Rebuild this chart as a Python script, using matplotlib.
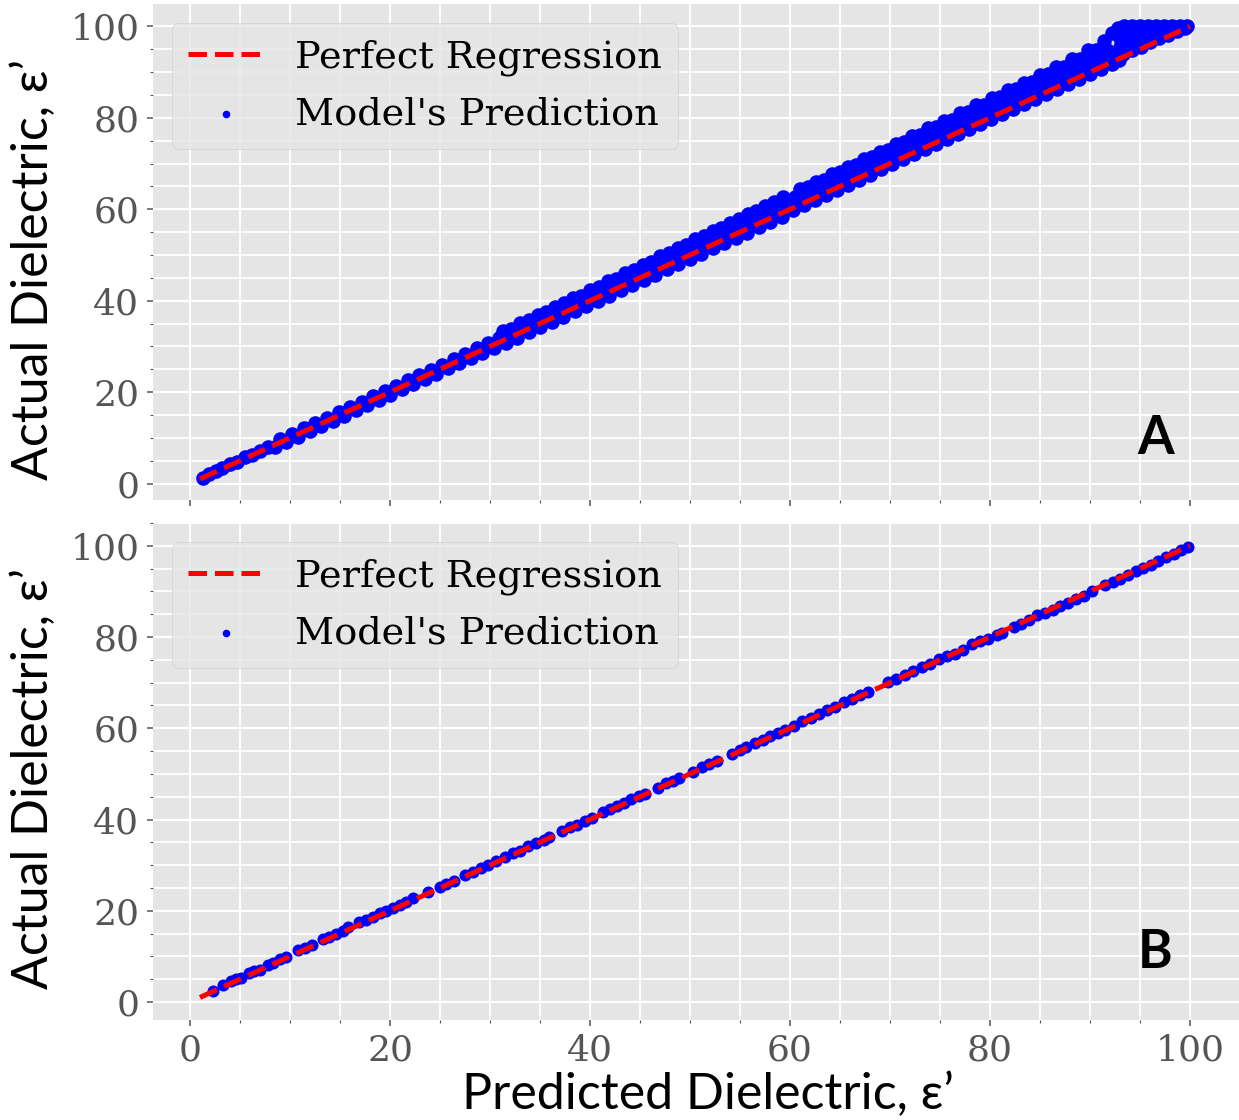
import matplotlib
matplotlib.use("Agg")
import matplotlib.pyplot as plt
from matplotlib.ticker import MultipleLocator

plt.style.use("ggplot")

# ---------------- data ----------------
line_range = [1.0, 100.0]

# Panel A: predicted (x) vs actual (y)
pred_a = [
    1.3, 1.9, 2.6, 3.2, 4.0, 4.7, 5.5, 6.2, 7.0, 7.8,
    8.5, 9.6, 10.8, 12.0, 13.1, 14.3, 15.4, 16.6, 17.7, 18.9, 20.0, 21.2, 22.3, 23.5, 24.6, 25.8, 26.9, 28.1, 29.2,
    9.0, 10.2, 11.4, 12.5, 13.7, 14.9, 16.0, 17.2, 18.3, 19.5, 20.6, 21.8, 22.9, 24.1, 25.2, 26.4, 27.5, 28.7, 29.8,
    30.4, 31.6, 32.7, 33.9, 35.0, 36.2, 37.3, 38.5, 39.6, 40.8, 41.9, 43.1, 44.2, 45.4, 46.5, 47.7, 48.8, 50.0, 51.1,
    52.3, 53.4, 54.6, 55.7, 56.9, 58.0, 59.2,
    30.9, 32.1, 33.2, 34.4, 35.5, 36.7, 37.8, 39.0, 40.1, 41.3, 42.4, 43.6, 44.7, 45.9, 47.0, 48.2, 49.3, 50.5, 51.6,
    52.8, 53.9, 55.1, 56.2, 57.4, 58.5, 59.7,
    31.3, 33.0, 34.8, 36.5, 38.3, 40.0, 41.8, 43.5, 45.3, 47.0, 48.8, 50.5, 52.3, 54.0, 55.8, 57.5, 59.3,
    32.1, 33.9, 35.6, 37.4, 39.1, 40.9, 42.6, 44.4, 46.1, 47.9, 49.6, 51.4, 53.1, 54.9, 56.6, 58.4,
    60.3, 61.4, 62.5, 63.6, 64.7, 65.8, 66.9, 68.0, 69.1, 70.2, 71.3, 72.4, 73.5, 74.6, 75.7, 76.8, 77.9, 79.0, 80.1,
    81.2, 82.3, 83.4, 84.5, 85.6, 86.7, 87.8, 88.9, 90.0, 91.1,
    60.8, 61.9, 63.0, 64.1, 65.2, 66.3, 67.4, 68.5, 69.6, 70.7, 71.8, 72.9, 74.0, 75.1, 76.2, 77.3, 78.4, 79.5, 80.6,
    81.7, 82.8, 83.9, 85.0, 86.1, 87.2, 88.3, 89.4, 90.5, 91.6,
    60.5, 61.7, 62.9, 64.1, 65.3, 66.5, 67.7, 68.9, 70.1, 71.3, 72.5, 73.7, 74.9, 76.1, 77.3, 78.5, 79.7, 80.9, 82.1,
    83.3, 84.5, 85.7, 86.9, 88.1, 89.3, 90.5, 91.7,
    61.8, 63.4, 65.0, 66.6, 68.2, 69.8, 71.4, 73.0, 74.6, 76.2, 77.8, 79.4, 81.0, 82.6, 84.2, 85.8, 87.4, 89.0, 90.6,
    61.0, 62.6, 64.2, 65.8, 67.4, 69.0, 70.6, 72.2, 73.8, 75.4, 77.0, 78.6, 80.2, 81.8, 83.4, 85.0, 86.6, 88.2, 89.8,
    91.4, 92.2, 92.8,
    93.4, 94.2, 95.0, 95.8, 96.6, 97.4, 98.2, 99.0, 99.7,
    93.0, 93.8, 94.5, 95.3, 96.1, 93.0, 93.9, 94.8, 95.6, 96.5, 97.3, 98.1,
    92.5, 93.3, 94.2, 95.1, 96.0, 96.9, 97.8, 98.7, 99.5, 92.2, 92.9,
]
actual_a = [
    1.2, 2.0, 2.8, 3.3, 4.2, 4.8, 5.7, 6.3, 7.2, 7.9,
    7.9, 9.0, 10.2, 11.4, 12.5, 13.7, 14.8, 16.0, 17.1, 18.3, 19.4, 20.6, 21.7, 22.9, 24.0, 25.2, 26.3, 27.5, 28.6,
    9.7, 10.9, 12.1, 13.2, 14.4, 15.6, 16.7, 17.9, 19.1, 20.3, 21.4, 22.6, 23.7, 24.9, 26.0, 27.2, 28.3, 29.6, 30.7,
    29.6, 30.8, 31.9, 33.1, 34.2, 35.4, 36.5, 37.7, 38.8, 40.0, 41.1, 42.3, 43.4, 44.6, 45.7, 46.9, 48.0, 49.2, 50.3,
    51.5, 52.6, 53.8, 54.9, 56.1, 57.2, 58.4,
    31.8, 33.0, 34.1, 35.3, 36.4, 37.6, 38.7, 39.9, 41.1, 42.3, 43.4, 44.6, 45.7, 46.9, 48.0, 49.2, 50.4, 51.6, 52.7,
    53.9, 55.0, 56.2, 57.3, 58.5, 59.7, 60.9,
    33.3, 35.1, 36.9, 38.7, 40.6, 42.3, 44.2, 46.0, 47.9, 49.7, 51.6, 53.4, 55.3, 57.1, 59.0, 60.8, 62.7,
    33.9, 35.7, 37.5, 39.4, 41.1, 43.0, 44.8, 46.7, 48.5, 50.4, 52.2, 54.1, 55.9, 57.8, 59.6, 61.5,
    59.9, 61.0, 62.1, 63.2, 64.3, 65.4, 66.5, 67.6, 68.7, 69.8, 70.9, 72.0, 73.1, 74.2, 75.3, 76.4, 77.5, 78.6, 79.7,
    80.8, 81.9, 83.0, 84.1, 85.2, 86.3, 87.4, 88.5, 89.6, 90.7,
    62.1, 63.2, 64.3, 65.4, 66.5, 67.6, 68.7, 69.8, 70.9, 72.0, 73.1, 74.2, 75.3, 76.4, 77.5, 78.6, 79.7, 80.8, 81.9,
    83.0, 84.1, 85.2, 86.3, 87.4, 88.5, 89.6, 90.7, 91.8, 92.9,
    62.7, 64.0, 65.2, 66.4, 67.7, 68.9, 70.1, 71.3, 72.6, 73.8, 75.0, 76.3, 77.5, 78.8, 80.0, 81.2, 82.5, 83.7, 85.0,
    86.2, 87.4, 88.7, 89.9, 91.2, 92.4, 93.6, 94.9,
    64.8, 66.4, 68.1, 69.7, 71.4, 73.0, 74.7, 76.3, 78.0, 79.6, 81.3, 82.9, 84.6, 86.2, 87.9, 89.5, 91.2, 92.9, 94.8,
    64.4, 66.0, 67.7, 69.3, 71.0, 72.6, 74.3, 76.0, 77.7, 79.4, 81.1, 82.7, 84.4, 86.0, 87.7, 89.3, 91.1, 92.9, 94.8,
    96.9, 98.5, 99.6,
    100.0, 100.0, 100.0, 100.0, 100.0, 100.0, 100.0, 100.0, 100.0,
    97.5, 98.3, 98.8, 99.2, 99.4, 95.5, 96.6, 97.4, 97.8, 98.6, 99.0, 99.3,
    93.6, 94.0, 94.8, 95.6, 96.5, 97.4, 98.2, 99.0, 99.6, 91.8, 92.6,
]

# Panel B: predicted (x) vs actual (y)
pred_b = [
    2.3, 3.3, 4.1, 4.6, 5.1, 5.9, 6.4, 7.0, 7.8, 8.3, 9.0, 9.6, 10.8, 11.5, 12.2, 13.3, 13.9, 14.6, 15.3, 15.8,
    16.9, 17.6, 18.3, 19.0, 19.6, 20.3, 21.0, 21.6, 22.3, 23.8, 25.0, 25.6, 26.4, 27.5, 28.3, 29.1, 29.8, 30.6,
    31.5, 32.3, 33.0, 33.8, 34.6, 35.4, 35.9, 37.2, 38.0, 38.7, 39.5, 40.2, 41.3, 42.0, 42.7, 43.4, 44.1, 44.9,
    45.5, 46.8, 47.6, 48.3, 48.9, 50.3, 51.2, 51.9, 52.7, 54.2, 55.0, 55.6, 56.5, 57.3, 58.0, 58.8, 59.5, 60.4,
    61.2, 62.1, 62.9, 63.7, 64.5, 65.4, 66.2, 67.0, 67.8, 69.8, 70.6, 71.5, 72.3, 73.2, 74.0, 74.9, 75.7, 76.5,
    77.3, 78.2, 79.0, 79.8, 80.7, 81.2, 82.4, 83.1, 83.9, 84.7, 85.5, 86.3, 87.0, 87.8, 88.6, 89.4, 90.2, 91.5,
    92.3, 93.0, 93.8, 94.6, 95.3, 96.1, 96.8, 97.6, 98.4, 99.1, 99.8,
]
actual_b = [
    2.5, 3.8, 4.6, 5.1, 5.3, 6.4, 6.9, 7.1, 8.1, 8.5, 9.5, 9.8, 11.3, 11.9, 12.5, 13.9, 14.3, 14.8, 15.6, 16.4,
    17.5, 17.9, 18.7, 19.4, 19.9, 20.6, 21.3, 21.9, 22.8, 24.1, 25.2, 25.9, 26.6, 27.8, 28.5, 29.4, 30.1, 30.8,
    31.8, 32.6, 33.2, 34.1, 34.9, 35.6, 36.1, 37.4, 38.3, 38.9, 39.7, 40.4, 41.6, 42.3, 42.9, 43.7, 44.4, 45.1,
    45.7, 47.0, 47.9, 48.5, 49.1, 50.5, 51.5, 52.1, 52.9, 54.4, 55.3, 55.8, 56.7, 57.5, 58.3, 59.0, 59.7, 60.6,
    61.5, 62.3, 63.1, 63.9, 64.6, 65.7, 66.4, 67.2, 68.0, 70.1, 70.8, 71.6, 72.5, 73.4, 74.1, 75.1, 75.9, 76.3,
    77.1, 78.4, 79.2, 79.6, 80.4, 80.9, 82.1, 82.8, 83.7, 84.9, 85.2, 86.0, 86.8, 87.5, 88.4, 89.1, 90.0, 91.3,
    92.1, 92.8, 93.6, 94.4, 95.2, 95.9, 96.6, 97.5, 98.2, 99.0, 99.7,
]

x_ticks = [0, 20, 40, 60, 80, 100]
y_ticks = [0, 20, 40, 60, 80, 100]
panel_labels = ["A", "B"]
xlabel = "Predicted Dielectric, \u03b5\u2019"
ylabel = "Actual Dielectric, \u03b5\u2019"

# ---------------- figure ----------------
W, H = 1239, 1120
fig = plt.figure(figsize=(W / 100, H / 100), dpi=100)
fig.patch.set_facecolor("white")

ax_a = fig.add_axes([152.5 / W, (H - 500) / H, (W - 152.5) / W, 496 / H])
ax_b = fig.add_axes([152.5 / W, (H - 1020) / H, (W - 152.5) / W, 497 / H], sharex=ax_a)

label_font = ["Lato", "DejaVu Sans"]
tick_font = "DejaVu Serif"

datasets = [(ax_a, pred_a, actual_a, 110), (ax_b, pred_b, actual_b, 75)]
for i, (ax, px, ay, msize) in enumerate(datasets):
    ax.set_facecolor("#E5E5E5")
    ax.plot(line_range, line_range, color="red", linestyle="--", linewidth=3.6,
            dashes=(3.7, 1.6), zorder=3, label="Perfect Regression")
    ax.scatter(px, ay, s=msize, color="blue", linewidths=0, zorder=2,
               label="Model's Prediction")

    ax.set_xlim(-3.75, 104.9)
    ax.set_xticks(x_ticks)
    ax.set_yticks(y_ticks)
    ax.xaxis.set_minor_locator(MultipleLocator(5))
    ax.yaxis.set_minor_locator(MultipleLocator(5))
    ax.grid(True, which="major", color="white", linewidth=1.6)
    ax.grid(True, which="minor", color="white", linewidth=1.3)
    ax.set_axisbelow(True)
    for s in ax.spines.values():
        s.set_visible(False)
    ax.tick_params(which="major", direction="out", length=4.5, width=1.1,
                   color="#555555", labelcolor="#555555", labelsize=26, pad=5)
    ax.tick_params(which="minor", direction="out", length=2.5, width=0.8,
                   color="#555555")
    for lab in ax.get_xticklabels() + ax.get_yticklabels():
        lab.set_fontfamily(tick_font)

    mscale = (30.0 / msize) ** 0.5
    leg = ax.legend(loc="upper left", prop={"family": tick_font, "size": 27.5},
                    frameon=True, facecolor="#E5E5E5", edgecolor="0.8",
                    framealpha=0.8, markerscale=mscale, handlelength=2.0,
                    handletextpad=0.8, borderaxespad=0.5, labelspacing=0.53,
                    borderpad=0.43)
    for t in leg.get_texts():
        t.set_color("black")

    ax.text(0.923, 0.125 if i == 0 else 0.135, panel_labels[i], transform=ax.transAxes,
            ha="center", va="center", fontsize=38, fontweight="bold",
            family=label_font, color="black")

    ax.set_ylabel(ylabel, fontsize=36, family=label_font, color="black")

ax_a.set_ylim(-3.6, 104.9)
ax_b.set_ylim(-3.95, 105.0)
ax_a.yaxis.set_label_coords(-0.088, 0.465)
ax_b.yaxis.set_label_coords(-0.088, 0.485)
plt.setp(ax_a.get_xticklabels(), visible=False)

ax_b.set_xlabel(xlabel, fontsize=36, family=label_font, color="black")
ax_b.xaxis.set_label_coords(0.511, -0.105)
ax_b.xaxis.label.set_va("top")

fig.savefig("out.png", dpi=100, facecolor="white")
